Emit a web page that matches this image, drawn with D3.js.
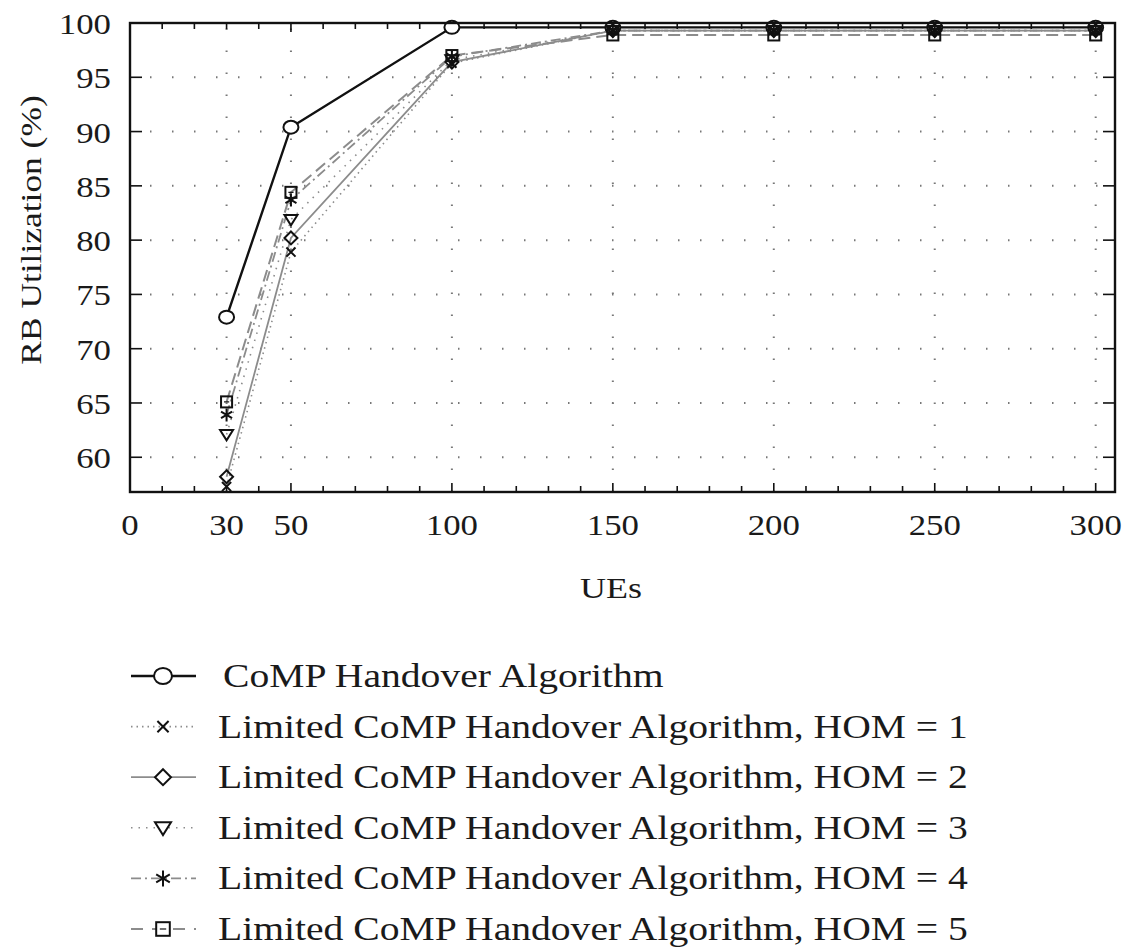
<!DOCTYPE html>
<html>
<head>
<meta charset="utf-8">
<script src="https://cdn.jsdelivr.net/npm/d3@7"></script>
<style>
  body { margin: 0; background: #fff; }
  text { font-family: "Liberation Serif", "DejaVu Serif", serif; fill: #1a1a1a; }
</style>
</head>
<body>
<svg id="chart" width="1131" height="947"></svg>
<script>
// data
var ues = [30, 50, 100, 150, 200, 250, 300];
var comp = [72.9, 90.4, 99.6, 99.6, 99.6, 99.6, 99.6];
var hom1 = [57.3, 78.9, 96.3, 99.3, 99.3, 99.3, 99.3];
var hom2 = [58.2, 80.2, 96.4, 99.3, 99.3, 99.3, 99.3];
var hom3 = [62.1, 81.9, 96.6, 99.3, 99.3, 99.3, 99.3];
var hom4 = [63.9, 83.7, 96.9, 99.3, 99.3, 99.3, 99.3];
var hom5 = [65.1, 84.4, 97.0, 98.9, 98.9, 98.9, 98.9];
var xTicks = [0, 30, 50, 100, 150, 200, 250, 300];
var yTicks = [60, 65, 70, 75, 80, 85, 90, 95, 100];
var names = ["CoMP Handover Algorithm",
  "Limited CoMP Handover Algorithm, HOM = 1",
  "Limited CoMP Handover Algorithm, HOM = 2",
  "Limited CoMP Handover Algorithm, HOM = 3",
  "Limited CoMP Handover Algorithm, HOM = 4",
  "Limited CoMP Handover Algorithm, HOM = 5"];

var gray = "#8c8c8c";
var series = [
  {name: names[0], values: comp, color: "#111", width: 2.4, dash: null, marker: "circle"},
  {name: names[1], values: hom1, color: gray, width: 1.6, dash: "1.5,4", marker: "x"},
  {name: names[2], values: hom2, color: gray, width: 1.8, dash: null, marker: "diamond"},
  {name: names[3], values: hom3, color: gray, width: 1.6, dash: "1.5,6", marker: "triangle"},
  {name: names[4], values: hom4, color: gray, width: 1.8, dash: "10,4,2,4", marker: "star"},
  {name: names[5], values: hom5, color: gray, width: 2, dash: "12,6", marker: "square"}
];

var svg = d3.select("#chart");
var pLeft = 130, pRight = 1115, pTop = 23, pBottom = 492;
var stretch = 1.2; // the original serif face runs wider than Liberation Serif

var x = d3.scaleLinear().domain([0, 306]).range([pLeft, pRight]);
var y = d3.scaleLinear().domain([56.8, 100]).range([pBottom, pTop]);

function label(g, tx, ty, str, size, anchor, rot) {
  return g.append("text")
    .attr("transform", "translate(" + tx + "," + ty + ")" + (rot ? " rotate(" + rot + ")" : "") + " scale(" + stretch + ",1)")
    .attr("text-anchor", anchor || "start")
    .attr("font-size", size)
    .text(str);
}

// grid
var grid = svg.append("g");
grid.selectAll(".gx").data(xTicks.filter(d => d > 0)).enter().append("line")
  .attr("x1", d => x(d)).attr("x2", d => x(d))
  .attr("y1", pBottom).attr("y2", pTop)
  .attr("stroke", "#777").attr("stroke-width", 2)
  .attr("stroke-dasharray", "1.5,20.5");
grid.selectAll(".gy").data(yTicks.filter(d => d < 100)).enter().append("line")
  .attr("x1", pLeft).attr("x2", pRight)
  .attr("y1", d => y(d)).attr("y2", d => y(d))
  .attr("stroke", "#777").attr("stroke-width", 2)
  .attr("stroke-dasharray", "1.5,20.5").attr("stroke-dashoffset", -20);

// minor ticks every 10 along x, top and bottom; y ticks on both sides
var minor = d3.range(0, 301, 10);
var tk = svg.append("g").attr("stroke", "#111").attr("stroke-width", 1.6);
tk.selectAll(".tb").data(minor).enter().append("line")
  .attr("x1", d => x(d)).attr("x2", d => x(d))
  .attr("y1", pBottom).attr("y2", d => pBottom - (d % 50 == 0 ? 9 : 6));
tk.selectAll(".tt").data(minor).enter().append("line")
  .attr("x1", d => x(d)).attr("x2", d => x(d))
  .attr("y1", pTop).attr("y2", d => pTop + (d % 50 == 0 ? 9 : 6));
tk.selectAll(".tl").data(yTicks).enter().append("line")
  .attr("x1", pLeft).attr("x2", pLeft + 12)
  .attr("y1", d => y(d)).attr("y2", d => y(d));
tk.selectAll(".tr").data(yTicks).enter().append("line")
  .attr("x1", pRight).attr("x2", pRight - 12)
  .attr("y1", d => y(d)).attr("y2", d => y(d));

// series lines
var line = d3.line().x(d => x(d[0])).y(d => y(d[1]));
series.forEach(function(s) {
  var pts = ues.map((u, i) => [u, s.values[i]]);
  svg.append("path").datum(pts)
    .attr("d", line)
    .attr("fill", "none")
    .attr("stroke", s.color)
    .attr("stroke-width", s.width)
    .attr("stroke-dasharray", s.dash);
});

function drawMarker(g, type, cx, cy, sz, fill) {
  var r = sz / 2;
  var m = g.append("g").attr("transform", "translate(" + cx + "," + cy + ")")
    .attr("stroke", "#111").attr("stroke-width", 2).attr("fill", fill);
  if (type == "circle") {
    m.append("ellipse").attr("rx", r + 1).attr("ry", r).attr("fill", "#fff");
  } else if (type == "x") {
    m.append("path").attr("d", "M" + (-r*0.7) + "," + (-r*0.7) + "L" + (r*0.7) + "," + (r*0.7) + "M" + (-r*0.7) + "," + (r*0.7) + "L" + (r*0.7) + "," + (-r*0.7));
  } else if (type == "diamond") {
    m.append("path").attr("d", "M0," + (-r) + "L" + r + ",0L0," + r + "L" + (-r) + ",0Z");
  } else if (type == "triangle") {
    m.append("path").attr("d", "M" + (-r) + "," + (-r*0.7) + "L" + r + "," + (-r*0.7) + "L0," + (r*0.9) + "Z");
  } else if (type == "star") {
    m.append("path").attr("d", "M0," + (-r) + "L0," + r + "M" + (-r*0.85) + "," + (-r*0.5) + "L" + (r*0.85) + "," + (r*0.5) + "M" + (-r*0.85) + "," + (r*0.5) + "L" + (r*0.85) + "," + (-r*0.5));
  } else if (type == "square") {
    m.append("rect").attr("x", -r*0.85).attr("y", -r*0.85).attr("width", r*1.7).attr("height", r*1.7);
    m.append("line").attr("x1", -r*0.4).attr("x2", r*0.4).attr("y1", 0).attr("y2", 0).attr("stroke-width", 1.2);
  }
}

series.forEach(function(s) {
  var g = svg.append("g");
  ues.forEach(function(u, i) { drawMarker(g, s.marker, x(u), y(s.values[i]), 13, "none"); });
});

// frame
svg.append("rect").attr("x", pLeft).attr("y", pTop)
  .attr("width", pRight - pLeft).attr("height", pBottom - pTop)
  .attr("fill", "none").attr("stroke", "#111").attr("stroke-width", 2.4);

// tick labels
var lab = svg.append("g");
xTicks.forEach(function(d) { label(lab, x(d), 535, d, 29, "middle"); });
yTicks.forEach(function(d) { label(lab, 111, y(d) + 11, d, 29, "end"); });

label(lab, 611, 598, "UEs", 30, "middle");
label(lab, 41, 230, "RB Utilization (%)", 29.5, "middle", -90);

// legend
var leg = svg.append("g");
series.forEach(function(s, i) {
  var ly = 676 + i * 50.6;
  leg.append("line").attr("x1", 131).attr("x2", 196).attr("y1", ly).attr("y2", ly)
    .attr("stroke", s.color).attr("stroke-width", s.width)
    .attr("stroke-dasharray", s.dash ? (s.dash == "12,6" ? "12,9" : s.dash) : null);
  drawMarker(leg, s.marker, 163, ly, 16, "#fff");
  label(leg, i == 0 ? 223 : 218, ly + 11, s.name, 33);
});
</script>
</body>
</html>
